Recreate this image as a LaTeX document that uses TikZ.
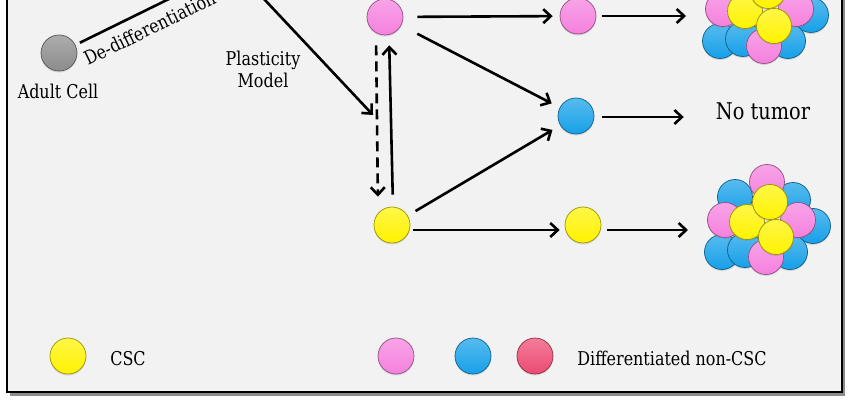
\documentclass[tikz,border=0pt]{standalone}
\usepackage{fontspec}
\setmainfont{DejaVu Serif}[FakeStretch=0.84]
\usetikzlibrary{arrows.meta,shadows}
\definecolor{pinkc}{RGB}{245,128,222}
\definecolor{bluec}{RGB}{22,160,232}
\definecolor{yellowc}{RGB}{255,243,0}
\definecolor{redc}{RGB}{236,74,114}
\definecolor{grayc}{RGB}{140,140,140}
\definecolor{bgc}{RGB}{242,242,242}
\tikzset{
  sph/.style={circle, inner sep=0pt, minimum size=36pt, draw=#1!60!black, line width=0.7pt,
    top color=#1!72!white, bottom color=#1,
    drop shadow={opacity=0.25, shadow xshift=0pt, shadow yshift=-1.5pt}},
  sphp/.style={draw=#1!60!black, line width=0.7pt, top color=#1!72!white, bottom color=#1,
    drop shadow={opacity=0.25, shadow xshift=0pt, shadow yshift=-1.5pt}},
  arr/.style={line width=2.6pt, -{Straight Barb[length=7.5pt,width=14pt,line width=2.6pt]}},
  lbl/.style={font=\fontsize{19}{22}\selectfont, inner sep=0pt, text=black},
  tumorcl/.pic={
    \foreach \p in {(735,197),(793,200),(813,226),(722,252),(745,250),(790,252)}
      \path[sphp=bluec] \p circle[radius=17.5];
    \foreach \p in {(767,182),(725,220),(798,220),(766,257)}
      \path[sphp=pinkc] \p circle[radius=17.5];
    \foreach \p in {(747,222),(770,202),(776,237)}
      \path[sphp=yellowc] \p circle[radius=17.5];
  }
}
\begin{document}
\begin{tikzpicture}[x=1pt,y=-1pt]
\useasboundingbox (0,0) rectangle (850,403);
\fill[white] (0,0) rectangle (850,403);
% frame
\fill[black!45] (10,-20) rectangle (845,396);
\draw[line width=2.5pt, fill=bgc] (7,-20) rectangle (842,392);

% adult cell and de-differentiation
\node[sph=grayc] (adult) at (59,53) {};
\node[lbl, anchor=base] (adultLbl) at (58,99) {Adult Cell};
\coordinate (dedTop) at (175,-4);
\draw[line width=2.6pt, shorten <=5pt] (adult) -- (dedTop);
\node[lbl, rotate=26, anchor=base west] (dedLbl) at (88,66) {De-differentiation};

% plasticity
\coordinate (plasTop) at (264,-1);
\coordinate (plasEnd) at (373,115);
\draw[arr] (plasTop) -- (plasEnd);
\node[lbl, align=center] (plasLbl) at (263,69) {Plasticity\\Model};

% main cells
\node[sph=pinkc] (pinkA) at (385,17) {};
\node[sph=yellowc] (yellowA) at (392,225) {};
\node[sph=pinkc] (pinkB) at (578,16) {};
\node[sph=bluec] (blueB) at (576,116) {};
\node[sph=yellowc] (yellowB) at (583,225) {};

\draw[arr, dashed, dash pattern=on 10pt off 6pt, shorten <=10pt, shorten >=10pt]
  ([xshift=-9pt]pinkA.south) -- ([xshift=-14pt]yellowA.north);
\draw[arr, shorten <=12pt, shorten >=10pt]
  ([xshift=1pt]yellowA.north) -- ([xshift=4pt]pinkA.south);
\draw[arr, shorten <=14pt, shorten >=7pt] (pinkA) -- (pinkB);
\draw[arr, shorten <=18pt, shorten >=9pt] (pinkA) -- (blueB);
\draw[arr, shorten <=9pt, shorten >=9pt] (yellowA) -- (blueB);
\draw[arr, shorten <=3pt, shorten >=5pt] ([yshift=-5pt]yellowA.east) -- ([yshift=-5pt]yellowB.west);

% outcomes
\pic at (-2,-211) {tumorcl};
\pic at (0,0) {tumorcl};
\coordinate (tumA) at (686,16);
\coordinate (tumB) at (688,230);
\node[font=\fontsize{23}{26}\selectfont, inner sep=0pt, anchor=base] (noTumor) at (763,120) {No tumor};
\draw[arr, shorten <=6pt] (pinkB.east) -- (tumA);
\draw[arr, shorten <=8pt, shorten >=32pt] ([yshift=-1pt]blueB.east) -- ([yshift=-1pt]blueB.east -| noTumor.west);
\draw[arr, shorten <=6pt] ([yshift=-5pt]yellowB.east) -- (tumB);

% legend
\node[sph=yellowc] (legY) at (68,356) {};
\node[lbl, anchor=base] (legYLbl) at (128,365) {CSC};
\node[sph=pinkc] (legP) at (396,356) {};
\node[sph=bluec] (legB) at (473,356) {};
\node[sph=redc] (legR) at (535,356) {};
\node[lbl, anchor=base] (legLbl) at (672,365) {Differentiated non-CSC};
\end{tikzpicture}
\end{document}
